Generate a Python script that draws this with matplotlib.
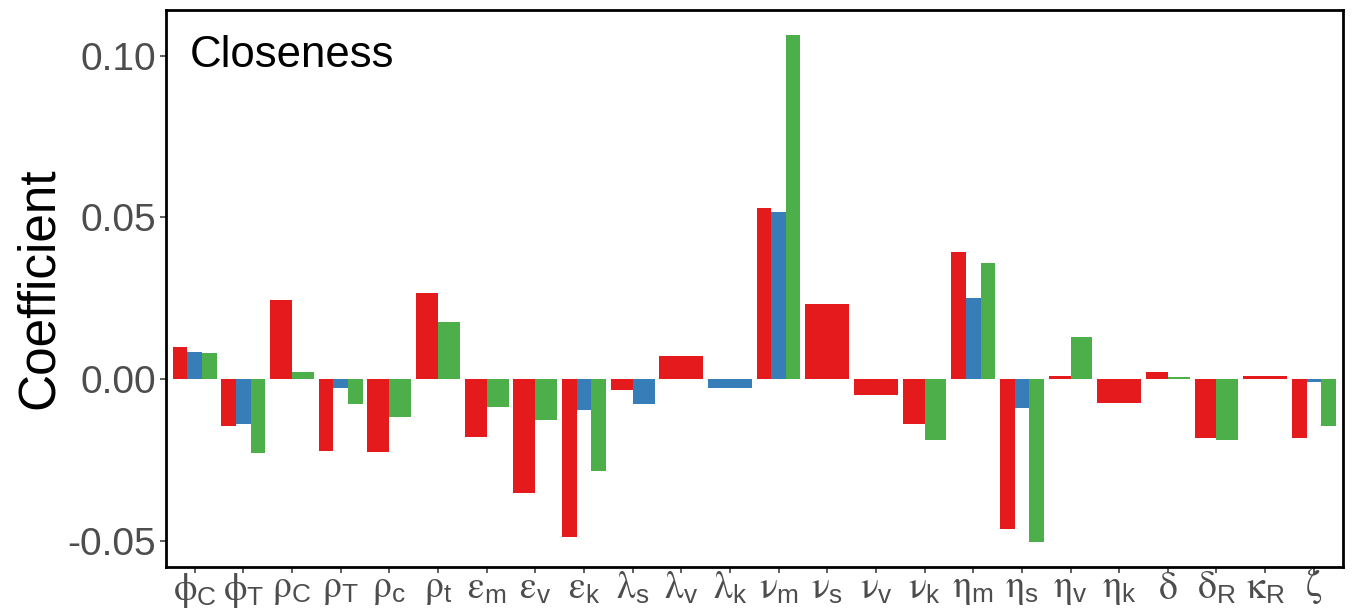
import numpy as np
import matplotlib
matplotlib.use("Agg")
import matplotlib.pyplot as plt
import matplotlib.transforms as mtransforms

plt.rcParams['mathtext.fontset'] = 'custom'
plt.rcParams['mathtext.rm'] = 'STIXGeneral'
plt.rcParams['mathtext.it'] = 'STIXGeneral:italic'
plt.rcParams['mathtext.bf'] = 'STIXGeneral:bold'
plt.rcParams['mathtext.sf'] = 'Liberation Sans'
plt.rcParams['font.family'] = ['Liberation Sans', 'DejaVu Sans']

nan = np.nan
categories = [r'$\mathrm{\phi}_{\mathsf{C}}$', r'$\mathrm{\phi}_{\mathsf{T}}$',
              r'$\mathrm{\rho}_{\mathsf{C}}$', r'$\mathrm{\rho}_{\mathsf{T}}$',
              r'$\mathrm{\rho}_{\mathsf{c}}$', r'$\mathrm{\rho}_{\mathsf{t}}$',
              r'$\mathrm{\varepsilon}_{\mathsf{m}}$', r'$\mathrm{\varepsilon}_{\mathsf{v}}$',
              r'$\mathrm{\varepsilon}_{\mathsf{k}}$', r'$\mathrm{\lambda}_{\mathsf{s}}$',
              r'$\mathrm{\lambda}_{\mathsf{v}}$', r'$\mathrm{\lambda}_{\mathsf{k}}$',
              r'$\mathrm{\nu}_{\mathsf{m}}$', r'$\mathrm{\nu}_{\mathsf{s}}$',
              r'$\mathrm{\nu}_{\mathsf{v}}$', r'$\mathrm{\nu}_{\mathsf{k}}$',
              r'$\mathrm{\eta}_{\mathsf{m}}$', r'$\mathrm{\eta}_{\mathsf{s}}$',
              r'$\mathrm{\eta}_{\mathsf{v}}$', r'$\mathrm{\eta}_{\mathsf{k}}$',
              r'$\mathrm{\delta}$', r'$\mathrm{\delta}_{\mathsf{R}}$',
              r'$\mathrm{\kappa}_{\mathsf{R}}$', r'$\mathrm{\zeta}$']

red_vals = [0.0100, -0.0144, 0.0243, -0.0222, -0.0227, 0.0265, -0.0180, -0.0353,
            -0.0489, -0.0034, 0.0071, nan, 0.0530, 0.0232, -0.0049, -0.0140,
            0.0393, -0.0463, 0.0010, -0.0074, 0.0023, -0.0182, 0.0010, -0.0182]
blue_vals = [0.0084, -0.0138, nan, -0.0028, nan, nan, nan, nan,
             -0.0095, -0.0077, nan, -0.0028, 0.0516, nan, nan, nan,
             0.0250, -0.0089, nan, nan, nan, nan, nan, -0.0009]
green_vals = [0.0080, -0.0229, 0.0022, -0.0077, -0.0118, 0.0175, -0.0086, -0.0128,
              -0.0285, nan, nan, nan, 0.1063, nan, nan, -0.0190,
              0.0360, -0.0503, 0.0131, nan, 0.0005, -0.0187, nan, -0.0144]

series = [red_vals, blue_vals, green_vals]
colors = ['#E41A1C', '#377EB8', '#4DAF4A']

fig = plt.figure(figsize=(13.62, 6.09), dpi=100)
ax = fig.add_axes([165.5/1362, 1 - 567/609, (1343-165.5)/1362, (567-10)/609])

total_w = 0.9
for i in range(len(categories)):
    present = [k for k in range(3) if not np.isnan(series[k][i])]
    n = len(present)
    w = total_w / n
    for j, k in enumerate(present):
        x = i - total_w/2 + w*(j + 0.5)
        ax.bar(x, series[k][i], width=w, color=colors[k], edgecolor='none', zorder=2)

ax.set_xlim(-0.6, len(categories) - 1 + 0.6)
allv = np.array([v for s in series for v in s if not np.isnan(v)])
lo, hi = allv.min(), allv.max()
pad = 0.05 * (hi - lo)
ax.set_ylim(lo - pad, hi + pad)

ax.set_xticks(range(len(categories)))
ax.set_xticklabels(categories, fontsize=27, color='#4D4D4D')
ax.set_yticks([-0.05, 0.0, 0.05, 0.10])
ax.set_yticklabels(['-0.05', '0.00', '0.05', '0.10'], fontsize=28, color='#4D4D4D')
ax.tick_params(axis='both', length=4, width=1.1, color='#333333', direction='out')
ax.tick_params(axis='x', pad=-1)
ax.tick_params(axis='y', pad=3)

# nudge the last label (deep descender) up slightly so it stays inside the figure
last = ax.get_xticklabels()[-1]
last.set_transform(last.get_transform() +
                   mtransforms.ScaledTranslation(0, 4/72, fig.dpi_scale_trans))

for sp in ax.spines.values():
    sp.set_linewidth(2)
    sp.set_color('black')

ax.set_ylabel('Coefficient', fontsize=37, color='black', labelpad=2)
ax.text(0.021, 0.955, 'Closeness', transform=ax.transAxes, fontsize=31.5,
        ha='left', va='top', color='black')

fig.savefig('out.png', dpi=100)
